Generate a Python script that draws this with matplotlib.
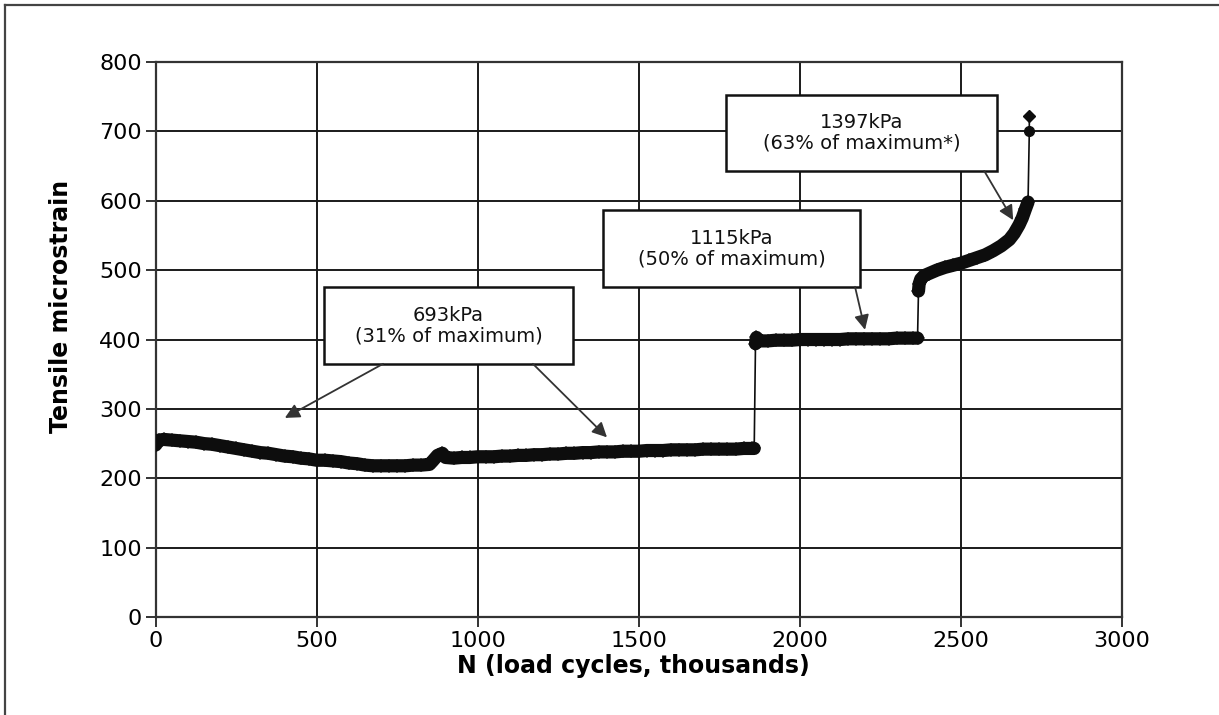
import numpy as np
import matplotlib.pyplot as plt
from matplotlib.patches import Rectangle
from matplotlib.lines import Line2D

# load cycles (thousands) and tensile microstrain
cycles_693 = [0, 10, 25, 50, 75, 100, 125, 150, 175, 200, 225, 250, 275, 300, 325, 350, 375,
              400, 425, 450, 475, 500, 525, 550, 575, 600, 625, 650, 675, 700, 725, 750, 775,
              800, 825, 850, 860, 875, 890, 900, 925, 950, 975, 1000, 1025, 1050, 1075, 1100,
              1125, 1150, 1175, 1200, 1225, 1250, 1275, 1300, 1325, 1350, 1375, 1400, 1425,
              1450, 1475, 1500, 1525, 1550, 1575, 1600, 1625, 1650, 1675, 1700, 1725, 1750,
              1775, 1800, 1825, 1850, 1858]
strain_693 = [248, 255, 256, 255, 254, 253, 252, 250, 249, 247, 245, 243, 241, 239, 237, 236, 234,
              232, 231, 229, 228, 226, 226, 225, 224, 222, 221, 219, 218, 218, 218, 218, 218,
              219, 219, 220, 225, 233, 236, 230, 229, 230, 230, 231, 231, 231, 232, 232,
              233, 233, 234, 234, 235, 235, 236, 236, 237, 237, 238, 238, 238,
              239, 239, 239, 240, 240, 240, 241, 241, 241, 241, 242, 242, 242,
              242, 242, 243, 243, 243]

cycles_1115 = [1862, 1865, 1875, 1900, 1925, 1950, 1975, 2000, 2025, 2050, 2075, 2100, 2125,
               2150, 2175, 2200, 2225, 2250, 2275, 2300, 2325, 2350, 2365]
strain_1115 = [394, 403, 398, 398, 399, 399, 399, 400, 400, 400, 400, 400, 400,
               401, 401, 401, 401, 401, 401, 402, 402, 402, 402]

cycles_1397 = [2368, 2370, 2375, 2385, 2400, 2425, 2450, 2475, 2500, 2525, 2550, 2575, 2600,
               2625, 2650, 2665, 2680, 2690, 2700, 2708]
strain_1397 = [470, 480, 487, 492, 495, 500, 504, 507, 510, 514, 518, 522, 528,
               535, 544, 553, 565, 575, 588, 598]

# last readings before failure
cycles_end = [2712, 2712]
strain_end = [700, 722]

labels = ["693kPa\n(31% of maximum)", "1115kPa\n(50% of maximum)", "1397kPa\n(63% of maximum*)"]

x = cycles_693 + cycles_1115 + cycles_1397 + cycles_end
y = strain_693 + strain_1115 + strain_1397 + strain_end

fig = plt.figure(figsize=(12.19, 7.15), dpi=100)
ax = fig.add_axes([0.1277, 0.137, 0.7928, 0.7763])

ink = '#0d0d0d'
# thin connecting line through all readings
ax.plot(x, y, color=ink, lw=1.2, zorder=3)
# dense readings at each load level form a thick band
for cx, cy in [(cycles_693, strain_693), (cycles_1115, strain_1115), (cycles_1397, strain_1397)]:
    ax.plot(cx, cy, color=ink, lw=9.5, solid_capstyle='round', solid_joinstyle='round',
            marker='D', markersize=7, markeredgewidth=0, zorder=3)
ax.plot(cycles_end[:1], strain_end[:1], 'o', color=ink, markersize=7, zorder=3)
ax.plot(cycles_end[1:], strain_end[1:], 'D', color=ink, markersize=6, zorder=3)

ax.set_xlim(0, 3000)
ax.set_ylim(0, 800)
ax.set_xticks(np.arange(0, 3001, 500))
ax.set_yticks(np.arange(0, 801, 100))
ax.grid(True, color='#1a1a1a', lw=1.4, zorder=1)
ax.set_axisbelow(True)
for s in ax.spines.values():
    s.set_color('#333333')
    s.set_linewidth(1.6)
ax.tick_params(direction='out', length=7, width=1.4, color='#333333', labelsize=16, pad=3)
ax.set_xlabel("N (load cycles, thousands)", fontsize=17, fontweight='bold')
ax.set_ylabel("Tensile microstrain", fontsize=17, fontweight='bold')
ax.xaxis.set_label_coords(0.494, -0.067)
ax.yaxis.set_label_coords(-0.086, 0.56)

# annotation boxes (centre x, centre y, width, height in data units)
boxes = [(909, 420, 773, 111), (1788, 531, 798, 111), (2191, 698, 841, 110)]
for (cx, cy, w, h), txt in zip(boxes, labels):
    ax.add_patch(Rectangle((cx - w / 2, cy - h / 2), w, h, facecolor='white',
                           edgecolor='#111111', lw=1.8, zorder=4))
    ax.text(cx, cy, txt, ha='center', va='center', fontsize=14, linespacing=1.15,
            color='#111111', zorder=5)

arrows = [((706, 365), (401, 287)), ((1171, 365), (1401, 259)),
          ((2171, 476), (2202, 414)), ((2572, 643), (2662, 572))]
for start, end in arrows:
    ax.annotate('', xy=end, xytext=start,
                arrowprops=dict(arrowstyle='-|>', mutation_scale=22, lw=1.3,
                                color='#333333', shrinkA=0, shrinkB=0), zorder=5)

# outer frame (left and top edges visible)
fig.add_artist(Line2D([0.0045, 0.0045], [0, 0.993], color='#444444', lw=1.6))
fig.add_artist(Line2D([0.0045, 1.0], [0.993, 0.993], color='#444444', lw=1.6))

fig.savefig("out.png", dpi=100)
